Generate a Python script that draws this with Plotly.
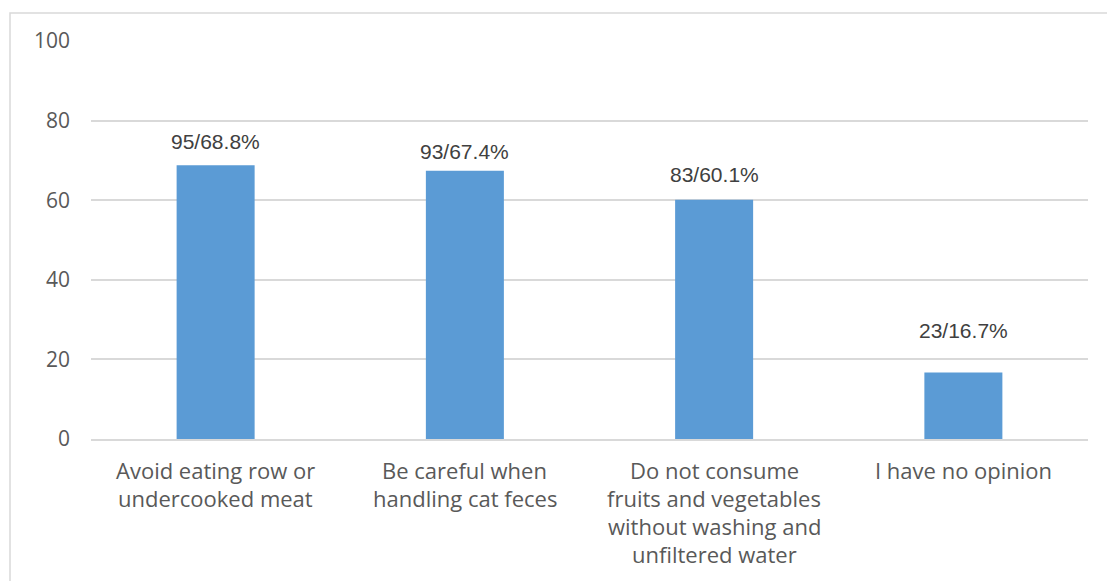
import plotly.graph_objects as go

categories = ["Avoid eating row or undercooked meat",
              "Be careful when handling cat feces",
              "Do not consume fruits and vegetables without washing and unfiltered water",
              "I have no opinion"]
category_lines = [["Avoid eating row or", "undercooked meat"],
                  ["Be careful when", "handling cat feces"],
                  ["Do not consume", "fruits and vegetables", "without washing and", "unfiltered water"],
                  ["I have no opinion"]]
counts = [95, 93, 83, 23]
percents = [68.8, 67.4, 60.1, 16.7]
y_ticks = [0, 20, 40, 60, 80, 100]

label_shift = [24, 19, 25, 42]

fig = go.Figure()
fig.add_trace(go.Bar(
    x=categories, y=percents,
    marker=dict(color="#5B9BD5", line=dict(width=0)),
    hoverinfo="skip",
))

annotations = []
for c, n, p, s in zip(categories, counts, percents, label_shift):
    annotations.append(dict(
        x=c, y=p, xref="x", yref="y", text=f"{n}/{p}%", showarrow=False,
        yanchor="middle", xanchor="center", yshift=s,
        font=dict(family="Liberation Sans Narrow, Liberation Sans, Arial", size=21, color="#404040"),
    ))
for c, lines in zip(categories, category_lines):
    for i, line in enumerate(lines):
        annotations.append(dict(
            x=c, y=0, xref="x", yref="paper", text=line, showarrow=False,
            yanchor="middle", xanchor="center", yshift=-31 - 28 * i,
            font=dict(family="Open Sans, DejaVu Sans, sans-serif", size=22, color="#595959"),
        ))

fig.update_layout(
    width=1107, height=581,
    margin=dict(l=91, r=19, t=41, b=142),
    paper_bgcolor="white", plot_bgcolor="white",
    showlegend=False,
    bargap=0.687,
    annotations=annotations,
    shapes=[dict(type="rect", xref="paper", yref="paper",
                 x0=(10 - 91) / 997, x1=(1115 - 91) / 997,
                 y0=(439 - 600) / 398, y1=(439 - 13) / 398,
                 line=dict(color="#D9D9D9", width=1.5), fillcolor="rgba(0,0,0,0)",
                 layer="below")],
    xaxis=dict(showticklabels=False, showgrid=False, zeroline=False,
               showline=True, linecolor="#D9D9D9", linewidth=1.5, ticks=""),
    yaxis=dict(range=[0, 100], tickvals=y_ticks, showgrid=True, gridcolor="#D9D9D9",
               gridwidth=1.5, zeroline=False, showline=False, ticks="",
               ticklabelstandoff=20,
               tickfont=dict(family="Open Sans, DejaVu Sans, sans-serif", size=21, color="#595959")),
)

fig.write_html("out.html")
